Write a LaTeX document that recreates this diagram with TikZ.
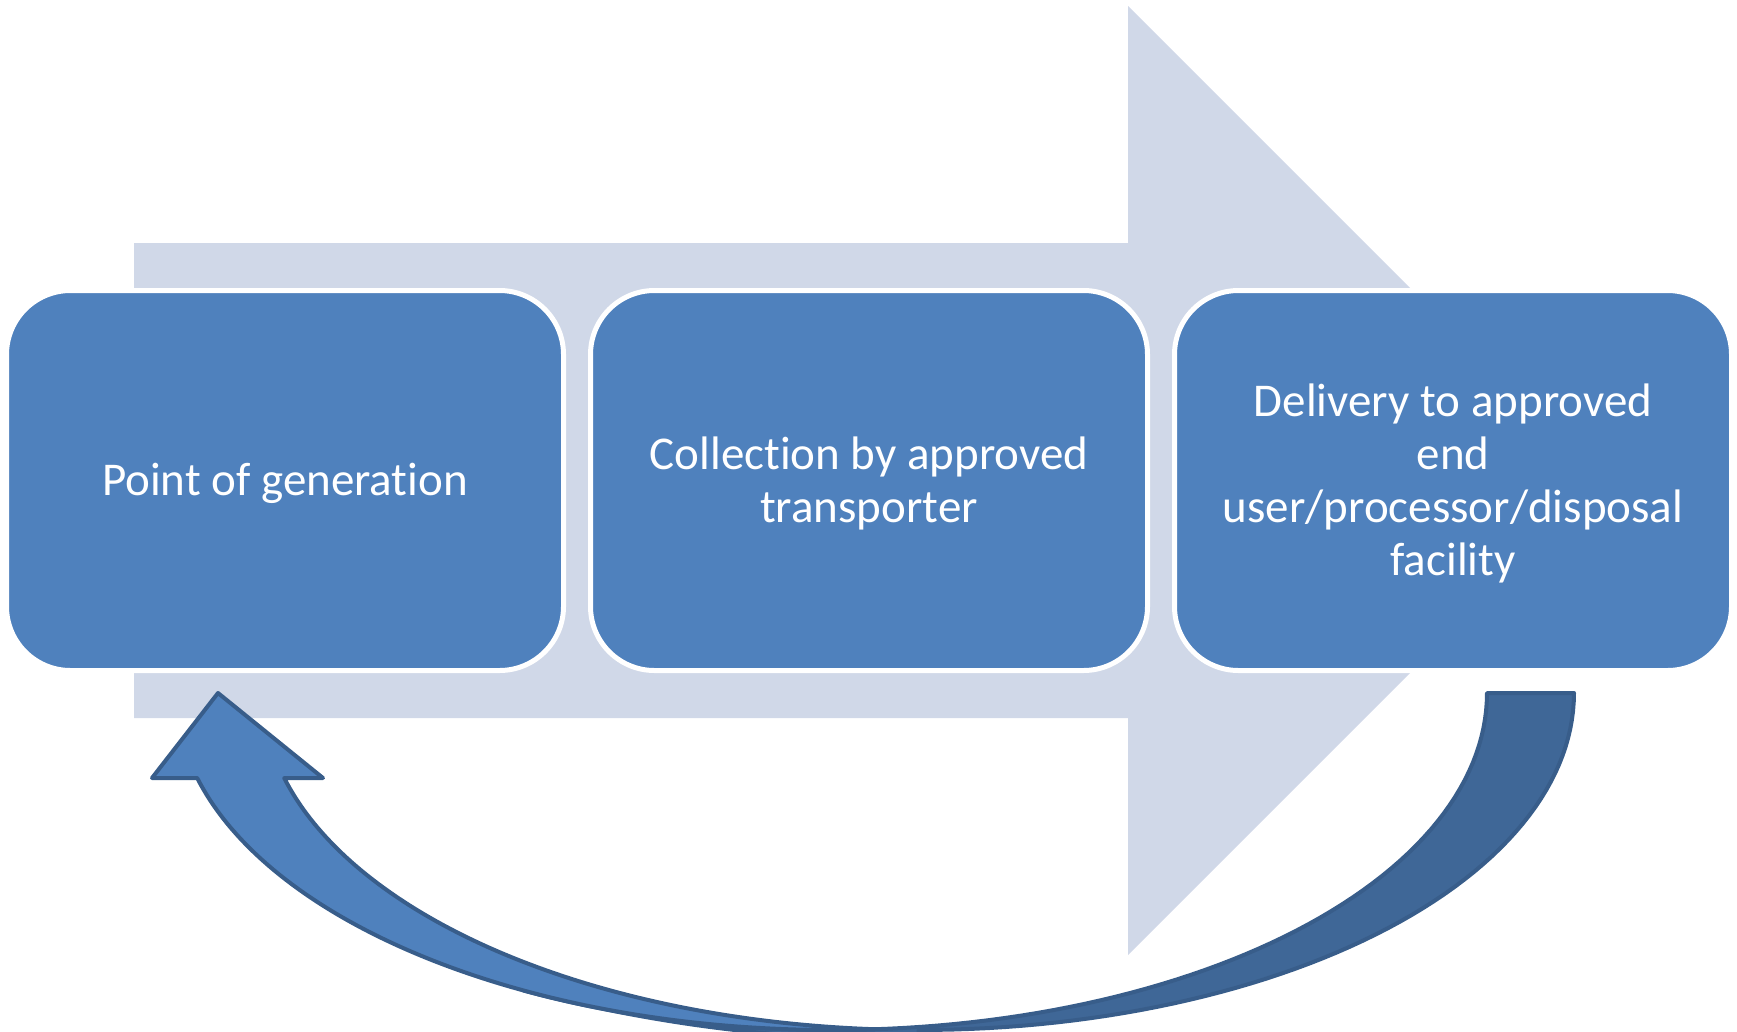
\documentclass[tikz,border=0pt]{standalone}
\usepackage{fontspec}
\setmainfont{Carlito}[Ligatures=NoCommon]
\definecolor{bgarrow}{RGB}{208,216,232}
\definecolor{boxblue}{RGB}{79,129,189}
\definecolor{arrlight}{RGB}{79,129,189}
\definecolor{arrdark}{RGB}{63,103,151}
\definecolor{arrline}{RGB}{56,93,138}
\begin{document}
\begin{tikzpicture}[x=1pt,y=-1pt,
  stagebox/.style={rectangle, rounded corners=64pt, fill=boxblue, draw=white,
    line width=5pt, minimum width=557pt, minimum height=380pt, inner sep=0pt},
  stagetext/.style={text=white, align=center, inner sep=0pt,
    font=\fontsize{47}{52.8}\selectfont},
  bandarrow/.style={draw=arrline, line width=4pt, line join=round}]
\useasboundingbox (0,0) rectangle (1737,1031);
\clip (0,0) rectangle (1737,1031);
% background flow arrow
\fill[bgarrow] (134,243) -- (1128,243) -- (1128,6) -- (1602.5,480.5)
  -- (1128,955) -- (1128,718) -- (134,718) -- cycle;
% stages
\node[stagebox] (box1) at (285,480.5) {};
\node[stagebox] (box2) at (869,480.5) {};
\node[stagebox] (box3) at (1453,480.5) {};
\node[stagetext] (lab1) at ([yshift=-3pt]box1.center) {Point of generation};
\node[stagetext] (lab2) at ([yshift=-3pt]box2.center) {Collection by approved\\transporter};
\node[stagetext] (lab3) at ([yshift=-3pt]box3.center) {Delivery to approved\\end\\user/processor/disposal\\facility};
% curved return arrow: back (dark) part
\coordinate (tip) at (218,693);
\filldraw[bandarrow, fill=arrdark]
  plot[domain=0:90, samples=60] ({918.5+655.5*cos(\x)},{693+337*sin(\x)})
  -- (918.5,1040) .. controls (760,1040) and (640,1020) .. (523.8,990.6)
  -- plot[domain=118:0, samples=80] ({831.5+655.5*cos(\x)},{693+337*sin(\x)})
  -- cycle;
% front (light) part with arrowhead
\filldraw[bandarrow, fill=arrlight]
  (152,778) -- (197,778)
  -- plot[domain=165.39:86.2, samples=80] ({831.5+655.5*cos(\x)},{693+337*sin(\x)})
  -- plot[domain=93.8:165.39, samples=80] ({918.5+655.5*cos(\x)},{693+337*sin(\x)})
  -- (323,778) -- (tip) -- cycle;
\end{tikzpicture}
\end{document}
